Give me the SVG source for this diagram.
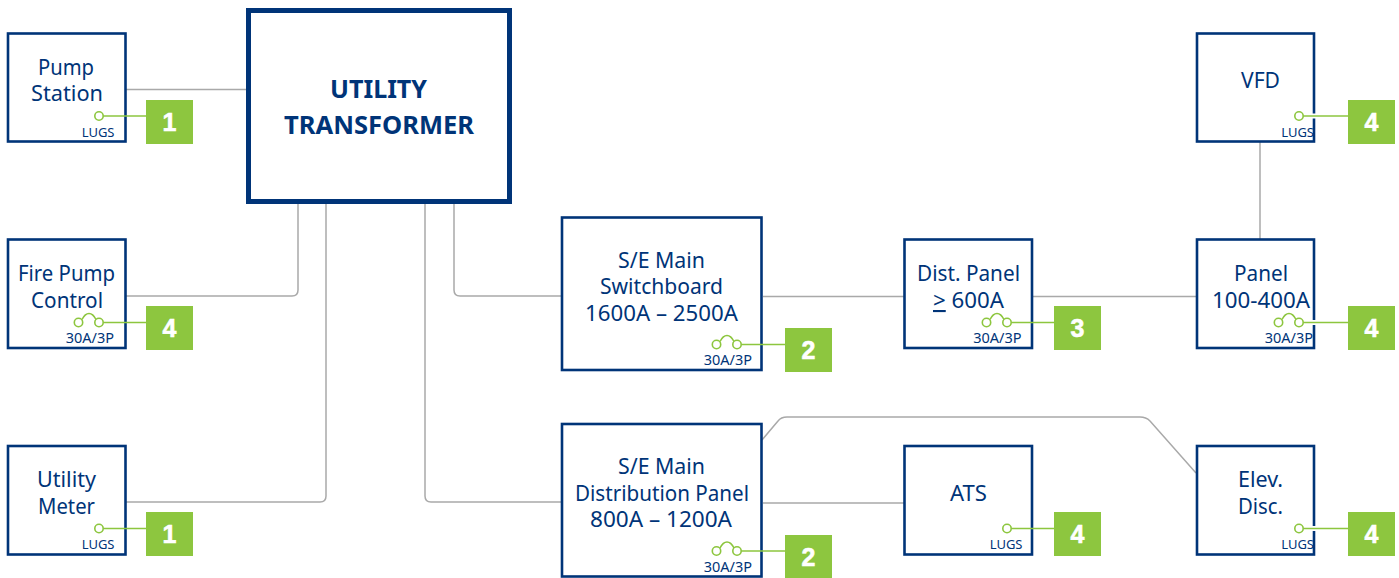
<svg xmlns="http://www.w3.org/2000/svg" width="1399" height="578" viewBox="0 0 1399 578">
<style>
.box{fill:#fff;stroke:#003478;stroke-width:2.6}
.big{fill:#fff;stroke:#003478;stroke-width:5}
.c{fill:none;stroke:#a9a9a9;stroke-width:1.5}
.g{fill:none;stroke:#8dc63f;stroke-width:1.6}
.h{fill:none;stroke:#fff;stroke-width:5}
.sq{fill:#8dc63f}
.n{fill:#fff;stroke:#fff;stroke-width:.6;font:700 25px "Liberation Sans",Arial,sans-serif;text-anchor:middle}
.t{fill:#003478;font:21px "Noto Sans",sans-serif;text-anchor:middle}
.s{fill:#003478;font:13px "Noto Sans",sans-serif;text-anchor:end}
.a{fill:#003478;font:14.5px "Noto Sans",sans-serif;text-anchor:end}
.b{fill:#003478;font:700 25.500px "Noto Sans",sans-serif;text-anchor:middle}
</style>
<defs>
<g id="lug"><path class="h" d="M-20 0H-5"/><circle class="g" cx="-27" cy="0" r="4.2"/><path class="g" d="M-22.800 0H23"/></g>
<g id="fuse"><path class="h" d="M-20 0H-5"/><circle class="g" cx="-27" cy="0" r="4.2"/><circle class="g" cx="-47.500" cy="0" r="4.2"/><path class="g" d="M-22.800 0H23M-44 -3C-40 -11 -34 -11 -30 -3"/></g>
</defs>
<g id="connectors">
<path class="c" d="M126 89.500H247"/>
<path class="c" d="M298 204V290Q298 296 292 296H126"/>
<path class="c" d="M326 204V496Q326 502 320 502H126"/>
<path class="c" d="M425 204V496Q425 502 431 502H561"/>
<path class="c" d="M454 204V290Q454 296 460 296H561"/>
<path class="c" d="M763 296.500H904"/>
<path class="c" d="M1033 296.500H1196"/>
<path class="c" d="M1260 142V239"/>
<path class="c" d="M763 503H904"/>
<path class="c" d="M762 440L778 421Q781 417 787 417H1140Q1146 417 1150 421L1196 473"/>
</g>
<g id="pump"><rect class="box" x="8" y="33.500" width="117.500" height="108"/><text class="t" x="66" y="75" textLength="56" lengthAdjust="spacingAndGlyphs">Pump</text><text class="t" x="67" y="101" textLength="72" lengthAdjust="spacingAndGlyphs">Station</text><text class="s" x="114.500" y="137">LUGS</text><use href="#lug" x="126" y="116"/><rect class="sq" x="146" y="100" width="47" height="44"/><text class="n" x="169.500" y="131">1</text></g>
<g id="fire"><rect class="box" x="8" y="239.500" width="117.500" height="108.500"/><text class="t" x="66.500" y="281" textLength="97" lengthAdjust="spacingAndGlyphs">Fire Pump</text><text class="t" x="67" y="308" textLength="72" lengthAdjust="spacingAndGlyphs">Control</text><text class="a" x="114" y="343">30A/3P</text><use href="#fuse" x="126" y="322.500"/><rect class="sq" x="146" y="306" width="47" height="44"/><text class="n" x="169.500" y="337">4</text></g>
<g id="meter"><rect class="box" x="8" y="446" width="117.500" height="108.500"/><text class="t" x="66.500" y="487" textLength="59" lengthAdjust="spacingAndGlyphs">Utility</text><text class="t" x="66.500" y="514" textLength="57" lengthAdjust="spacingAndGlyphs">Meter</text><text class="s" x="114.500" y="549">LUGS</text><use href="#lug" x="126" y="528.500"/><rect class="sq" x="146" y="512" width="47" height="44"/><text class="n" x="169.500" y="543">1</text></g>
<g id="transformer"><rect class="big" x="248.500" y="10.500" width="261" height="191"/><text class="b" x="378.500" y="98" textLength="97" lengthAdjust="spacingAndGlyphs">UTILITY</text><text class="b" x="379" y="134" textLength="190" lengthAdjust="spacingAndGlyphs">TRANSFORMER</text></g>
<g id="switchboard"><rect class="box" x="562" y="217.500" width="199.500" height="152.500"/><text class="t" x="661.500" y="268" textLength="87" lengthAdjust="spacingAndGlyphs">S/E Main</text><text class="t" x="661.500" y="294" textLength="123" lengthAdjust="spacingAndGlyphs">Switchboard</text><text class="t" x="661.500" y="321" textLength="153" lengthAdjust="spacingAndGlyphs">1600A – 2500A</text><text class="a" x="752" y="365">30A/3P</text><use href="#fuse" x="764" y="344.500"/><rect class="sq" x="785" y="328" width="47" height="44"/><text class="n" x="808.500" y="359">2</text></g>
<g id="distpanel"><rect class="box" x="562" y="424" width="199.500" height="152.500"/><text class="t" x="661.500" y="474" textLength="87" lengthAdjust="spacingAndGlyphs">S/E Main</text><text class="t" x="662" y="501" textLength="174" lengthAdjust="spacingAndGlyphs">Distribution Panel</text><text class="t" x="661" y="527" textLength="142" lengthAdjust="spacingAndGlyphs">800A – 1200A</text><text class="a" x="752" y="572">30A/3P</text><use href="#fuse" x="764" y="551"/><rect class="sq" x="785" y="535" width="47" height="43"/><text class="n" x="808.500" y="566">2</text></g>
<g id="dist"><rect class="box" x="904.500" y="239.500" width="127.500" height="108.500"/><text class="t" x="968.500" y="281" textLength="103" lengthAdjust="spacingAndGlyphs">Dist. Panel</text><text class="t" x="968.500" y="308" textLength="71" lengthAdjust="spacingAndGlyphs"><tspan text-decoration="underline">&gt;</tspan> 600A</text><text class="a" x="1021.500" y="343">30A/3P</text><use href="#fuse" x="1034" y="322.500"/><rect class="sq" x="1054" y="306" width="47" height="44"/><text class="n" x="1077.500" y="337">3</text></g>
<g id="ats"><rect class="box" x="904.500" y="446" width="127.500" height="108.500"/><text class="t" x="968.500" y="501" textLength="37" lengthAdjust="spacingAndGlyphs">ATS</text><text class="s" x="1022.500" y="549">LUGS</text><use href="#lug" x="1034" y="528.500"/><rect class="sq" x="1054" y="512" width="47" height="44"/><text class="n" x="1077.500" y="543">4</text></g>
<g id="vfd"><rect class="box" x="1197" y="33.500" width="117" height="108"/><text class="t" x="1260.500" y="88" textLength="39" lengthAdjust="spacingAndGlyphs">VFD</text><text class="s" x="1314" y="137">LUGS</text><use href="#lug" x="1326" y="116"/><rect class="sq" x="1348" y="100" width="47" height="44"/><text class="n" x="1371.500" y="131">4</text></g>
<g id="panel"><rect class="box" x="1197" y="239.500" width="117" height="108.500"/><text class="t" x="1261" y="281" textLength="54" lengthAdjust="spacingAndGlyphs">Panel</text><text class="t" x="1261" y="308" textLength="98" lengthAdjust="spacingAndGlyphs">100-400A</text><text class="a" x="1313" y="343">30A/3P</text><use href="#fuse" x="1326" y="322.500"/><rect class="sq" x="1348" y="306" width="47" height="44"/><text class="n" x="1371.500" y="337">4</text></g>
<g id="elev"><rect class="box" x="1197" y="446" width="117" height="108.500"/><text class="t" x="1260.500" y="487" textLength="45" lengthAdjust="spacingAndGlyphs">Elev.</text><text class="t" x="1260.500" y="514" textLength="45" lengthAdjust="spacingAndGlyphs">Disc.</text><text class="s" x="1314" y="549">LUGS</text><use href="#lug" x="1326" y="528.500"/><rect class="sq" x="1348" y="512" width="47" height="44"/><text class="n" x="1371.500" y="543">4</text></g>
</svg>
